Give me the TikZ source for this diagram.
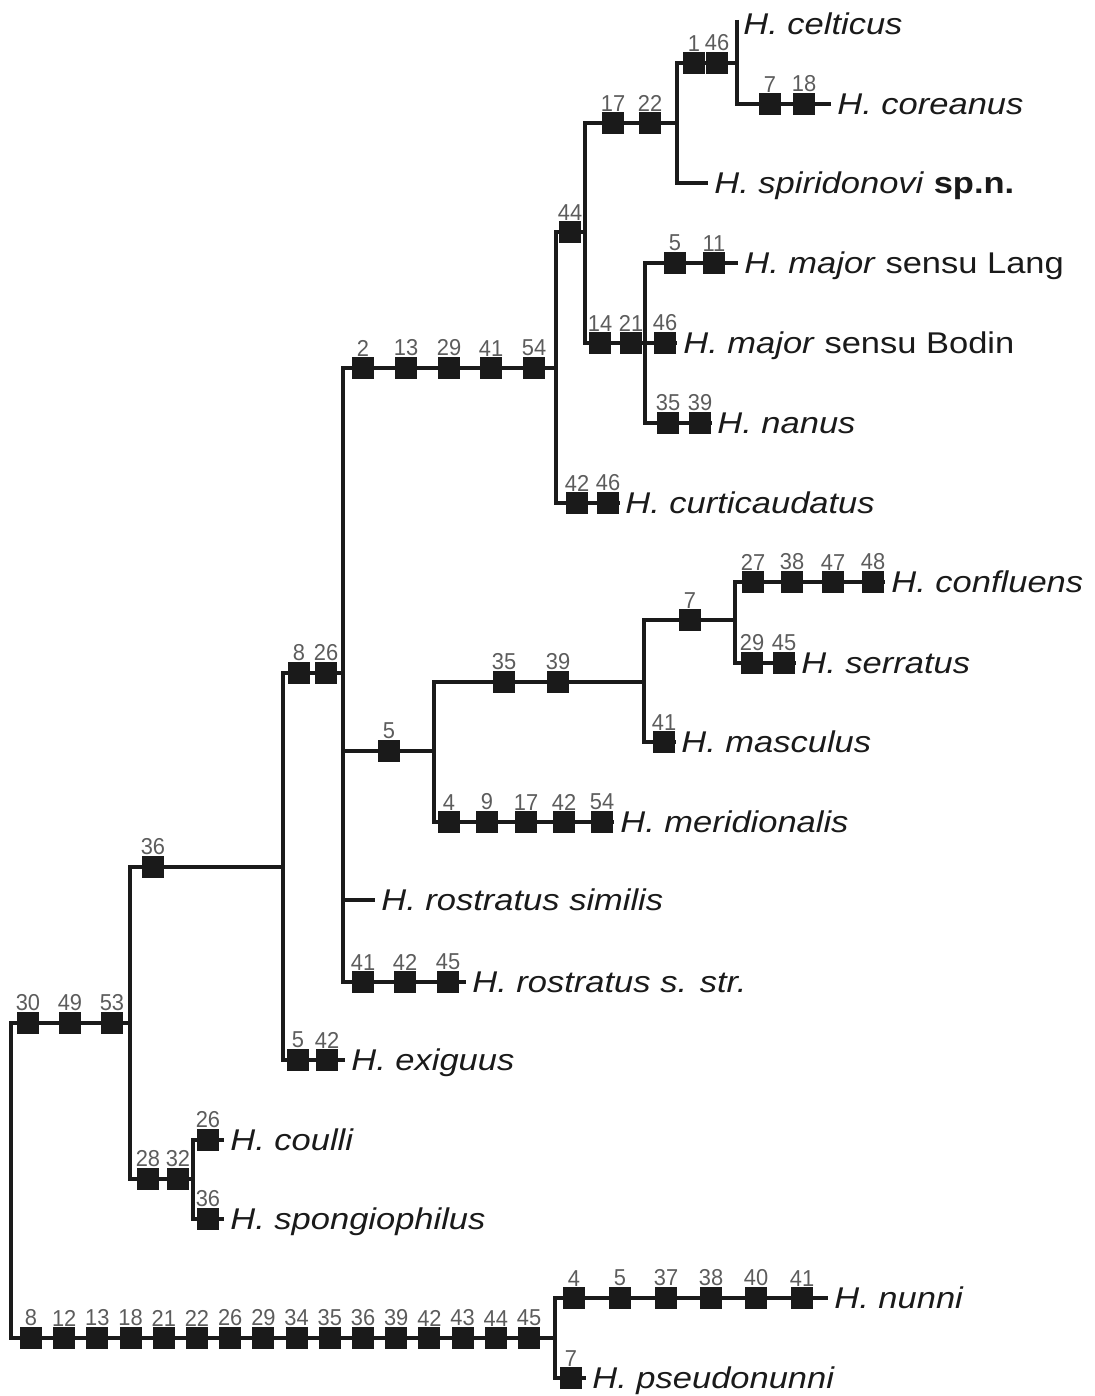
\documentclass[tikz,border=0pt]{standalone}
\usepackage{fontspec}
\setmainfont{Liberation Sans}
\newfontfamily\taxfont[FakeStretch=1.15]{Liberation Sans}
\newfontfamily\numfont[FakeStretch=0.95]{Liberation Sans}
\definecolor{ink}{RGB}{26,26,26}
\definecolor{numgray}{RGB}{92,92,92}

\begin{document}
\begin{tikzpicture}[x=0.5pt,y=-0.5pt]

		\tikzstyle{chr}=[rectangle,fill=ink,minimum size=11pt,inner sep=0pt,label distance=2pt]
		\tikzstyle{num}=[font=\numfont\fontsize{11.5}{13}\selectfont,text=numgray,inner sep=0pt]
		\tikzstyle{taxon}=[anchor=west,inner xsep=3pt,inner ysep=0pt,
			text height=10.7pt,text depth=0pt,text=ink,
			font=\taxfont\fontsize{15}{17}\selectfont]
		\tikzstyle{branch}=[draw=ink,line width=2pt]

		\useasboundingbox (0,0) rectangle (1094,1396);

		\coordinate (root) at (11,1180);
		\coordinate (cA) at (130,1023);
		\coordinate (cB) at (283,867);
		\coordinate (cC) at (343,673);
		\coordinate (cD) at (556,368);
		\coordinate (cE) at (585,232);
		\coordinate (cF) at (677,123);
		\coordinate (cG) at (737,63);
		\coordinate (cH) at (645,343);
		\coordinate (cI) at (434,751);
		\coordinate (cJ) at (644,682);
		\coordinate (cK) at (735,620);
		\coordinate (cL) at (193,1179);
		\coordinate (cM) at (555,1338);
		\coordinate (tcel) at (737,20);

		\foreach \lab/\px [count=\i] in {30/28,49/70,53/112}
			\node[chr,label={[num]above:\lab}] (bA\i) at (\px,1023) {};
		\foreach \lab/\px [count=\i] in {36/153}
			\node[chr,label={[num]above:\lab}] (bB\i) at (\px,867) {};
		\foreach \lab/\px [count=\i] in {8/299,26/326}
			\node[chr,label={[num]above:\lab}] (bC\i) at (\px,673) {};
		\foreach \lab/\px [count=\i] in {5/298,42/327}
			\node[chr,label={[num]above:\lab}] (exi\i) at (\px,1060) {};
		\foreach \lab/\px [count=\i] in {2/363,13/406,29/449,41/491,54/534}
			\node[chr,label={[num]above:\lab}] (bE\i) at (\px,368) {};
		\foreach \lab/\px [count=\i] in {44/570}
			\node[chr,label={[num]above:\lab}] (bF\i) at (\px,232) {};
		\foreach \lab/\px [count=\i] in {17/613,22/650}
			\node[chr,label={[num]above:\lab}] (bG\i) at (\px,123) {};
		\foreach \lab/\px [count=\i] in {1/694,46/717}
			\node[chr,label={[num]above:\lab}] (bH\i) at (\px,63) {};
		\foreach \lab/\px [count=\i] in {7/770,18/804}
			\node[chr,label={[num]above:\lab}] (cor\i) at (\px,104) {};
		\foreach \lab/\px [count=\i] in {14/600,21/631}
			\node[chr,label={[num]above:\lab}] (bI\i) at (\px,343) {};
		\foreach \lab/\px [count=\i] in {5/675,11/714}
			\node[chr,label={[num]above:\lab}] (lan\i) at (\px,263) {};
		\foreach \lab/\px [count=\i] in {46/665}
			\node[chr,label={[num]above:\lab}] (bod\i) at (\px,343) {};
		\foreach \lab/\px [count=\i] in {35/668,39/700}
			\node[chr,label={[num]above:\lab}] (nan\i) at (\px,423) {};
		\foreach \lab/\px [count=\i] in {42/577,46/608}
			\node[chr,label={[num]above:\lab}] (cur\i) at (\px,503) {};
		\foreach \lab/\px [count=\i] in {5/389}
			\node[chr,label={[num]above:\lab}] (bJ\i) at (\px,751) {};
		\foreach \lab/\px [count=\i] in {35/504,39/558}
			\node[chr,label={[num]above:\lab}] (bK\i) at (\px,682) {};
		\foreach \lab/\px [count=\i] in {7/690}
			\node[chr,label={[num]above:\lab}] (bL\i) at (\px,620) {};
		\foreach \lab/\px [count=\i] in {27/753,38/792,47/833,48/873}
			\node[chr,label={[num]above:\lab}] (con\i) at (\px,582) {};
		\foreach \lab/\px [count=\i] in {29/752,45/784}
			\node[chr,label={[num]above:\lab}] (ser\i) at (\px,663) {};
		\foreach \lab/\px [count=\i] in {41/664}
			\node[chr,label={[num]above:\lab}] (mas\i) at (\px,742) {};
		\foreach \lab/\px [count=\i] in {4/449,9/487,17/526,42/564,54/602}
			\node[chr,label={[num]above:\lab}] (mer\i) at (\px,822) {};
		\foreach \lab/\px [count=\i] in {41/363,42/405,45/448}
			\node[chr,label={[num]above:\lab}] (str\i) at (\px,982) {};
		\foreach \lab/\px [count=\i] in {28/148,32/178}
			\node[chr,label={[num]above:\lab}] (bM\i) at (\px,1179) {};
		\foreach \lab/\px [count=\i] in {26/208}
			\node[chr,label={[num]above:\lab}] (cou\i) at (\px,1140) {};
		\foreach \lab/\px [count=\i] in {36/208}
			\node[chr,label={[num]above:\lab}] (spo\i) at (\px,1219) {};
		\foreach \lab [count=\i] in {8,12,13,18,21,22,26,29,34,35,36,39,42,43,44,45}
			\node[chr,label={[num]above:\lab}] (bot\i) at ({31+33.2*(\i-1)},1338) {};
		\foreach \lab/\px [count=\i] in {4/574,5/620,37/666,38/711,40/756,41/802}
			\node[chr,label={[num]above:\lab}] (nun\i) at (\px,1298) {};
		\foreach \lab/\px [count=\i] in {7/571}
			\node[chr,label={[num]above:\lab}] (pse\i) at (\px,1378) {};

		\node[taxon] (celticus) at (737,24) {\textit{H. celticus}};
		\node[taxon] (coreanus) at (831,104) {\textit{H. coreanus}};
		\node[taxon] (spiri) at (708,183) {\textit{H. spiridonovi} \textbf{sp.n.}};
		\node[taxon] (lang) at (738,263) {\textit{H. major} sensu Lang};
		\node[taxon] (bodin) at (677,343) {\textit{H. major} sensu Bodin};
		\node[taxon] (nanus) at (711,423) {\textit{H. nanus}};
		\node[taxon] (curti) at (619,503) {\textit{H. curticaudatus}};
		\node[taxon] (conflu) at (885,582) {\textit{H. confluens}};
		\node[taxon] (serrat) at (795,663) {\textit{H. serratus}};
		\node[taxon] (mascul) at (675,742) {\textit{H. masculus}};
		\node[taxon] (merid) at (614,822) {\textit{H. meridionalis}};
		\node[taxon] (similis) at (375,900) {\textit{H. rostratus similis}};
		\node[taxon] (sstr) at (466,982) {\textit{H. rostratus s. str.}};
		\node[taxon] (exiguus) at (345,1060) {\textit{H. exiguus}};
		\node[taxon] (coulli) at (224,1140) {\textit{H. coulli}};
		\node[taxon] (spongio) at (224,1219) {\textit{H. spongiophilus}};
		\node[taxon] (nunni) at (828,1298) {\textit{H. nunni}};
		\node[taxon] (pseudo) at (586,1378) {\textit{H. pseudonunni}};

		\draw[branch] (root) |- (bA1) -- (bA2) -- (bA3) -- (cA);
		\draw[branch] (root) |- (bot1) \foreach \i in {2,...,16} {-- (bot\i)} -- (cM);
		\draw[branch] (cA) |- (bB1) -- (cB);
		\draw[branch] (cA) |- (bM1) -- (bM2) -- (cL);
		\draw[branch] (cL) |- (cou1) -- (coulli);
		\draw[branch] (cL) |- (spo1) -- (spongio);
		\draw[branch] (cB) |- (bC1) -- (bC2) -- (cC);
		\draw[branch] (cB) |- (exi1) -- (exi2) -- (exiguus);
		\draw[branch] (cC) |- (bE1) \foreach \i in {2,...,5} {-- (bE\i)} -- (cD);
		\draw[branch] (cC) |- (bJ1) -- (cI);
		\draw[branch] (cC) |- (similis);
		\draw[branch] (cC) |- (str1) -- (str2) -- (str3) -- (sstr);
		\draw[branch] (cD) |- (bF1) -- (cE);
		\draw[branch] (cD) |- (cur1) -- (cur2) -- (curti);
		\draw[branch] (cE) |- (bG1) -- (bG2) -- (cF);
		\draw[branch] (cE) |- (bI1) -- (bI2) -- (cH);
		\draw[branch] (cF) |- (bH1) -- (bH2) -- (cG);
		\draw[branch] (cF) |- (spiri);
		\draw[branch] (tcel) -- (cG) |- (cor1) -- (cor2) -- (coreanus);
		\draw[branch] (cH) |- (lan1) -- (lan2) -- (lang);
		\draw[branch] (cH) -- (bod1) -- (bodin);
		\draw[branch] (cH) |- (nan1) -- (nan2) -- (nanus);
		\draw[branch] (cI) |- (bK1) -- (bK2) -- (cJ);
		\draw[branch] (cI) |- (mer1) \foreach \i in {2,...,5} {-- (mer\i)} -- (merid);
		\draw[branch] (cJ) |- (bL1) -- (cK);
		\draw[branch] (cJ) |- (mas1) -- (mascul);
		\draw[branch] (cK) |- (con1) \foreach \i in {2,...,4} {-- (con\i)} -- (conflu);
		\draw[branch] (cK) |- (ser1) -- (ser2) -- (serrat);
		\draw[branch] (cM) |- (nun1) \foreach \i in {2,...,6} {-- (nun\i)} -- (nunni);
		\draw[branch] (cM) |- (pse1) -- (pseudo);

	\end{tikzpicture}
\end{document}
